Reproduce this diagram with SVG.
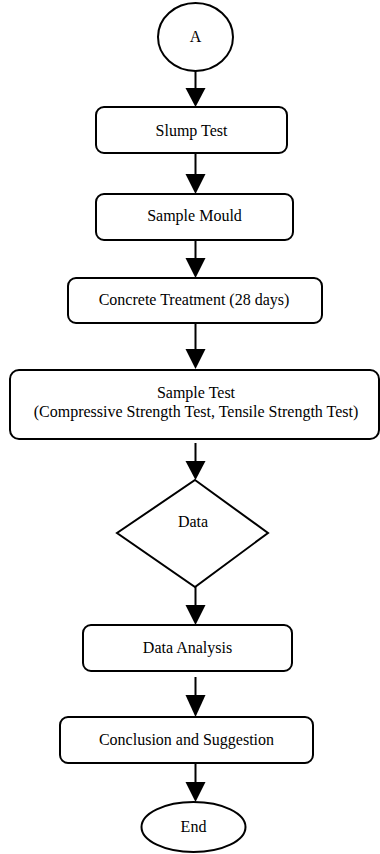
<svg xmlns="http://www.w3.org/2000/svg" width="380" height="854" viewBox="0 0 380 854">
  <style>
    .shape { fill: #ffffff; stroke: #000000; stroke-width: 2; }
    .label { font-family: "Liberation Serif", "Times New Roman", serif; font-size: 16px; fill: #000000; text-anchor: middle; }
    .link { stroke: #000000; stroke-width: 2; fill: none; }
    .head { fill: #000000; stroke: none; }
  </style>
  <rect width="380" height="854" fill="#ffffff"/>

  <g id="connectors">
    <line class="link" x1="195.5" y1="71" x2="195.5" y2="90"/>
    <polygon class="head" points="185.5,88 205.5,88 195.5,107"/>
    <line class="link" x1="195.5" y1="153" x2="195.5" y2="176"/>
    <polygon class="head" points="185.5,174 205.5,174 195.5,194"/>
    <line class="link" x1="195.5" y1="240" x2="195.5" y2="260"/>
    <polygon class="head" points="185.5,258 205.5,258 195.5,278"/>
    <line class="link" x1="195.5" y1="323" x2="195.5" y2="351"/>
    <polygon class="head" points="185.5,349 205.5,349 195.5,369"/>
    <line class="link" x1="195.5" y1="443" x2="195.5" y2="463"/>
    <polygon class="head" points="185.5,461 205.5,461 195.5,480"/>
    <line class="link" x1="195.5" y1="587" x2="195.5" y2="607"/>
    <polygon class="head" points="185.5,605 205.5,605 195.5,625"/>
    <line class="link" x1="195.5" y1="677" x2="195.5" y2="697"/>
    <polygon class="head" points="185.5,695 205.5,695 195.5,717"/>
    <line class="link" x1="195.5" y1="763" x2="195.5" y2="784"/>
    <polygon class="head" points="185.5,782 205.5,782 195.5,802"/>
  </g>

  <g id="start">
    <ellipse class="shape" cx="195.5" cy="37" rx="37.5" ry="34"/>
    <text class="label" x="195.5" y="42">A</text>
  </g>

  <g id="slump-test">
    <rect class="shape" x="96" y="107" width="191" height="46" rx="8"/>
    <text class="label" x="191.5" y="135.5">Slump Test</text>
  </g>

  <g id="sample-mould">
    <rect class="shape" x="96" y="194" width="197" height="46" rx="8"/>
    <text class="label" x="194.5" y="220.5">Sample Mould</text>
  </g>

  <g id="concrete-treatment">
    <rect class="shape" x="68" y="278" width="254" height="45" rx="8"/>
    <text class="label" x="194" y="305">Concrete Treatment (28 days)</text>
  </g>

  <g id="sample-test">
    <rect class="shape" x="10" y="370" width="369" height="69" rx="9"/>
    <text class="label" x="196" y="398">Sample Test</text>
    <text class="label" x="196" y="417">(Compressive Strength Test, Tensile Strength Test)</text>
  </g>

  <g id="data">
    <polygon class="shape" points="195,480 268,533 195,587 117,533"/>
    <text class="label" x="193" y="527">Data</text>
  </g>

  <g id="data-analysis">
    <rect class="shape" x="83" y="625" width="209" height="46" rx="8"/>
    <text class="label" x="187.5" y="653">Data Analysis</text>
  </g>

  <g id="conclusion">
    <rect class="shape" x="60" y="717" width="253" height="46" rx="8"/>
    <text class="label" x="186.5" y="745">Conclusion and Suggestion</text>
  </g>

  <g id="end">
    <ellipse class="shape" cx="193.5" cy="827" rx="52" ry="25"/>
    <text class="label" x="193.5" y="832">End</text>
  </g>
</svg>
